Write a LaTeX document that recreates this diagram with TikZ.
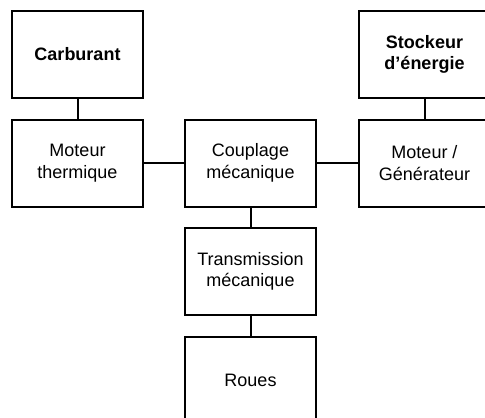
\documentclass[tikz,border=0pt]{standalone}
\usepackage{fontspec}
\setmainfont{Liberation Sans}
\begin{document}
\begin{tikzpicture}[x=1pt,y=-1pt,
  block/.style={draw=black,line width=2pt,fill=white,minimum width=131pt,minimum height=87pt,
    inner sep=0pt,align=center,anchor=north west,font=\fontsize{18}{21.5}\selectfont},
  link/.style={line width=2pt}]
\useasboundingbox (0,0) rectangle (485,418);
\clip (0,0) rectangle (485,418);
% top row: energy sources
\node[block] (carb) at (11,10) {\textbf{Carburant}};
\node[block] (stock) at (358,10) {\textbf{Stockeur}\\\textbf{d’énergie}};
% second row: machines and coupling
\node[block] (mt) at (11,118.5) {Moteur\\thermique};
\node[block] (coup) at (184,118.5) {Couplage\\mécanique};
\node[block] (mg) at (358,118.5) {Moteur /\\Générateur};
% drive line
\node[block] (trans) at (184,227) {Transmission\\mécanique};
\node[block] (roues) at (184,335.5) {Roues};
% links
\draw[link] (carb) -- (mt);
\draw[link] (stock) -- (mg);
\draw[link] (mt) -- (coup);
\draw[link] (coup) -- (mg);
\draw[link] (coup) -- (trans);
\draw[link] (trans) -- (roues);
\end{tikzpicture}
\end{document}
